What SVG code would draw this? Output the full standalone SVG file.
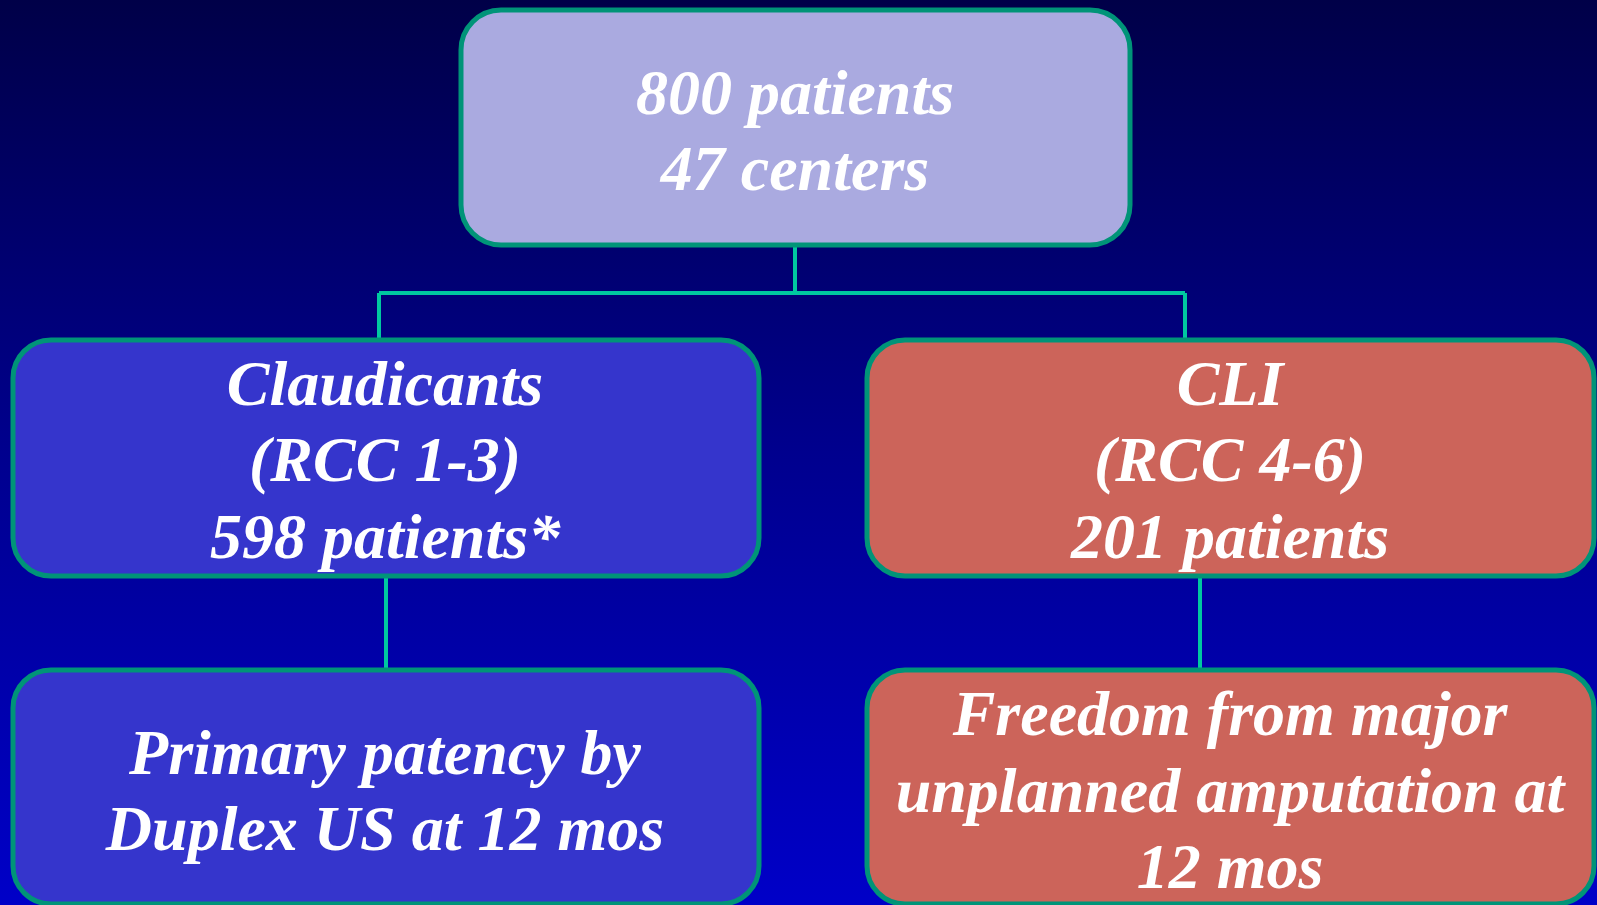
<svg xmlns="http://www.w3.org/2000/svg" width="1597" height="905" viewBox="0 0 1597 905">
<defs>
<linearGradient id="bg" x1="0" y1="0" x2="0" y2="1">
<stop offset="0" stop-color="#000048"/>
<stop offset="0.5" stop-color="#00008E"/>
<stop offset="1" stop-color="#0000C8"/>
</linearGradient>
</defs>
<style>
.box{stroke:#009478;stroke-width:5}
.top{fill:#AAAAE0}
.blue{fill:#3535CC}
.red{fill:#CC645A}
.conn{stroke:#00C8A0;stroke-width:4;fill:none}
text{font-family:"Liberation Serif","Times New Roman",serif;font-weight:bold;font-style:italic;fill:#FFFFFF;text-anchor:middle;font-size:64px}
</style>
<rect x="0" y="0" width="1597" height="905" fill="url(#bg)"/>
<g id="connectors">
<path class="conn" d="M795,246 V293 M379,293 H1185 M379,293 V338 M1185,293 V338"/>
<path class="conn" d="M386,577 V668"/>
<path class="conn" d="M1200,577 V668"/>
</g>
<g id="node-top">
<rect class="box top" x="461" y="10" width="669" height="235" rx="40"/>
<text x="795" y="114">800 patients</text>
<text x="795" y="190">47 centers</text>
</g>
<g id="node-claudicants">
<rect class="box blue" x="13" y="340" width="746" height="236" rx="38"/>
<text x="385" y="405">Claudicants</text>
<text x="385" y="481">(RCC 1-3)</text>
<text x="385" y="558">598 patients*</text>
</g>
<g id="node-cli">
<rect class="box red" x="867" y="340" width="727" height="236" rx="38"/>
<text x="1230" y="405">CLI</text>
<text x="1230" y="481">(RCC 4-6)</text>
<text x="1230" y="558">201 patients</text>
</g>
<g id="node-patency">
<rect class="box blue" x="13" y="670" width="746" height="234" rx="38"/>
<text x="385" y="774">Primary patency by</text>
<text x="385" y="850">Duplex US at 12 mos</text>
</g>
<g id="node-amputation">
<rect class="box red" x="867" y="670" width="727" height="234" rx="38"/>
<text x="1230" y="735">Freedom from major</text>
<text x="1230" y="812">unplanned amputation at</text>
<text x="1230" y="888">12 mos</text>
</g>
</svg>
